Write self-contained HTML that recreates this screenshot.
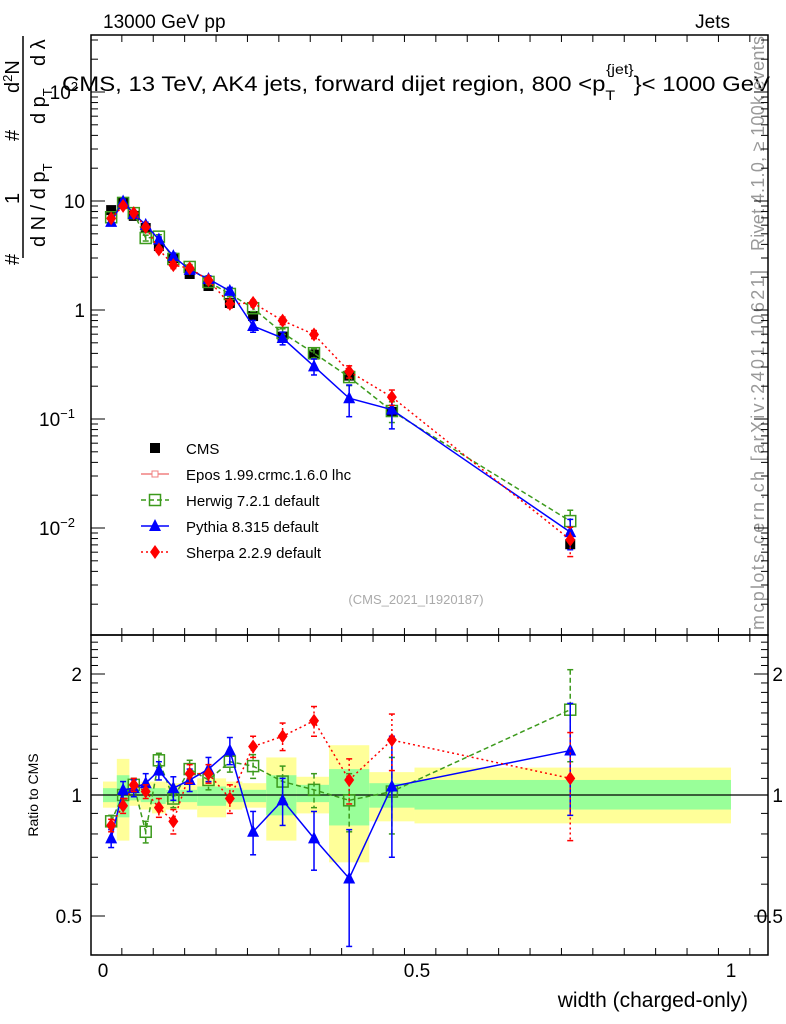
<!DOCTYPE html>
<html><head><meta charset="utf-8">
<style>
html,body{margin:0;padding:0;background:#fff;}
svg{display:block;font-family:"Liberation Sans",sans-serif;}
</style></head>
<body>
<svg id="c" width="786" height="1024" viewBox="0 0 786 1024" xmlns="http://www.w3.org/2000/svg">
<text x="103" y="28" font-size="19">13000 GeV pp</text>
<text x="730" y="28" font-size="19" text-anchor="end">Jets</text>
<text x="62" y="91" font-size="21" textLength="708" lengthAdjust="spacingAndGlyphs">CMS, 13 TeV, AK4 jets, forward dijet region, 800 &lt;p<tspan font-size="14" dy="9">T</tspan><tspan font-size="14" dy="-26" dx="-8">{jet}</tspan><tspan dy="17">}&lt; 1000 GeV</tspan></text>
<g font-size="20">
<text transform="translate(19,265) rotate(-90)">#</text>
<text transform="translate(19,204) rotate(-90)">1</text>
<text transform="translate(19,141) rotate(-90)">#</text>
<text transform="translate(19,93) rotate(-90)">d<tspan font-size="13" dy="-7">2</tspan><tspan dy="7">N</tspan></text>
<line x1="23" y1="258" x2="23" y2="36" stroke="#000" stroke-width="1.5"/>
<text transform="translate(45,247) rotate(-90)">d N / d p<tspan font-size="13" dy="7">T</tspan></text>
<text transform="translate(45,124) rotate(-90)">d p<tspan font-size="13" dy="7">T</tspan></text>
<text transform="translate(45,66) rotate(-90)">d λ</text>
</g>
<text transform="translate(764,251) rotate(-90)" font-size="18" fill="#999" textLength="215" lengthAdjust="spacing">Rivet 4.1.0, ≥ 100k events</text>
<text transform="translate(764,630) rotate(-90)" font-size="18" fill="#999" textLength="360" lengthAdjust="spacing">mcplots.cern.ch [arXiv:2401.10621]</text>
<text x="416" y="604" font-size="13" fill="#aaa" text-anchor="middle">(CMS_2021_I1920187)</text>
<text transform="translate(38,795) rotate(-90)" font-size="14" text-anchor="middle">Ratio to CMS</text>
<text x="748" y="1007" font-size="21" text-anchor="end">width (charged-only)</text>
<g id="bands"></g><g id="axes"></g><g id="marks"></g><g id="legend"></g>
</svg>
<script>
const binEdges=[0,0.022,0.042,0.06,0.078,0.1,0.124,0.15,0.196,0.222,0.26,0.308,0.36,0.424,0.496,1.0];
const xCenters=[0.013,0.032,0.049,0.068,0.089,0.112,0.138,0.168,0.202,0.239,0.286,0.336,0.392,0.460,0.744];
const cmsValues=[8.25,9.6,7.3,5.65,3.86,3.0,2.14,1.66,1.16,0.88,0.57,0.39,0.25,0.116,0.0071];
const herwigRatio=[0.86,1.0,1.06,0.81,1.22,0.98,1.16,1.09,1.21,1.18,1.08,1.03,0.97,1.02,1.63];
const pythiaRatio=[0.78,1.03,1.04,1.07,1.15,1.04,1.09,1.16,1.29,0.81,0.97,0.78,0.62,1.05,1.29];
const sherpaRatio=[0.84,0.94,1.06,1.02,0.93,0.86,1.13,1.13,0.98,1.32,1.40,1.53,1.09,1.37,1.10];
const herwigErr=[0.03,0.03,0.04,0.05,0.05,0.05,0.06,0.06,0.07,0.08,0.1,0.1,0.16,0.22,0.42];
const pythiaErr=[0.04,0.05,0.05,0.06,0.06,0.07,0.07,0.08,0.1,0.1,0.13,0.13,0.2,0.35,0.4];
const sherpaErr=[0.03,0.04,0.04,0.04,0.05,0.06,0.06,0.06,0.08,0.08,0.11,0.13,0.14,0.22,0.33];
const yellowLo=[0.93,0.77,0.94,0.92,0.9,0.92,0.92,0.88,0.92,0.93,0.77,0.9,0.68,0.86,0.85];
const yellowHi=[1.08,1.23,1.06,1.08,1.08,1.07,1.06,1.1,1.08,1.07,1.24,1.11,1.33,1.14,1.17];
const greenLo=[0.96,0.88,0.97,0.96,0.95,0.96,0.96,0.94,0.96,0.96,0.89,0.96,0.84,0.93,0.92];
const greenHi=[1.04,1.12,1.03,1.04,1.04,1.03,1.03,1.05,1.04,1.03,1.12,1.06,1.16,1.07,1.09];
const mainTicks=[0.01,0.1,1,10,100];
const mainTickLabels=[["10","−2"],["10","−1"],["1",""],["10",""],["10","2"]];
const ratioTicks=[0.5,1,2];
const ratioTickLabels=["0.5","1","2"];
const xTicks=[0,0.5,1];
const xTickLabels=["0","0.5","1"];
const legendLabels=["CMS","Epos 1.99.crmc.1.6.0 lhc","Herwig 7.2.1 default","Pythia 8.315 default","Sherpa 2.2.9 default"];

const NS="http://www.w3.org/2000/svg";
const L=91,R=768,MT=35,MB=635,RT=635,RB=955;
const X=v=>103+628*v;
const Y=v=>310-109*Math.log10(v);
const YR=v=>795-121*Math.log2(v);
function el(tag,attrs,parent){const e=document.createElementNS(NS,tag);for(const k in attrs)e.setAttribute(k,attrs[k]);(parent||document.getElementById('c')).appendChild(e);return e;}
const bands=document.getElementById('bands'),axes=document.getElementById('axes'),marks=document.getElementById('marks'),leg=document.getElementById('legend');

for(let i=0;i<xCenters.length;i++){
 const x0=X(binEdges[i]),x1=X(binEdges[i+1]);
 const y=el('rect',{x:x0,y:YR(yellowHi[i]),width:x1-x0,height:YR(yellowLo[i])-YR(yellowHi[i]),fill:'#ffff99'},bands);
 
 
 const g=el('rect',{x:x0,y:YR(greenHi[i]),width:x1-x0,height:YR(greenLo[i])-YR(greenHi[i]),fill:'#99ff99'},bands);
 
 
}
el('line',{x1:L,x2:R,y1:YR(1),y2:YR(1),stroke:'#000','stroke-width':1.2},bands);

el('rect',{x:L,y:MT,width:R-L,height:MB-MT,fill:'none',stroke:'#000','stroke-width':1.5},axes);
el('rect',{x:L,y:RT,width:R-L,height:RB-RT,fill:'none',stroke:'#000','stroke-width':1.5},axes);
for(let d=-3;d<=2;d++){for(let m=1;m<=9;m++){const v=m*Math.pow(10,d);const y=Y(v);if(y<MT||y>MB)continue;const len=m==1?14:7;
 el('line',{x1:L,x2:L+len,y1:y,y2:y,stroke:'#000'},axes);el('line',{x1:R,x2:R-len,y1:y,y2:y,stroke:'#000'},axes);}}
mainTicks.forEach((v,i)=>{const t=el('text',{x:85,y:Y(v)+7,'font-size':19,'text-anchor':'end'},axes);
 
 
 t.textContent=mainTickLabels[i][0];
 if(mainTickLabels[i][1]){t.setAttribute('x',mainTickLabels[i][1].length>1?75:78);const s=el('tspan',{'font-size':13,dy:-8},t);s.textContent=mainTickLabels[i][1];}
});
for(let v=0.4;v<=2.5;v=+(v+0.1).toFixed(2)){const y=YR(v);if(y<RT||y>RB)continue;const major=ratioTicks.includes(v);const len=major?14:7;
 el('line',{x1:L,x2:L+len,y1:y,y2:y,stroke:'#000'},axes);el('line',{x1:R,x2:R-len,y1:y,y2:y,stroke:'#000'},axes);}
ratioTicks.forEach((v,i)=>{[[82,'end'],[783,'end']].forEach(p=>{const t=el('text',{x:p[0],y:YR(v)+7,'font-size':19,'text-anchor':p[1]},axes);
 
 
 t.textContent=ratioTickLabels[i];});});
for(let k=0;k<=22;k++){const v=-0.02+k*0.05;const x=X(v);if(x<L||x>R)continue;const major=Math.abs(v*2-Math.round(v*2))<1e-6;const len=major?14:7;
 [[MT,1],[MB,-1],[RT,1],[RB,-1]].forEach(p=>el('line',{x1:x,x2:x,y1:p[0],y2:p[0]+p[1]*len,stroke:'#000'},axes));}
xTicks.forEach((v,i)=>{const t=el('text',{x:X(v),y:977,'font-size':19,'text-anchor':'middle'},axes);
 
 
 t.textContent=xTickLabels[i];});

function marker(type,x,y,color,parent){
 if(type=='sq')return el('rect',{x:x-5,y:y-5,width:10,height:10,fill:'#000'},parent);
 if(type=='osq')return el('rect',{x:x-5.5,y:y-5.5,width:11,height:11,fill:'none',stroke:color,'stroke-width':1.5},parent);
 if(type=='tri')return el('polygon',{points:`${x},${y-7} ${x-6},${y+5} ${x+6},${y+5}`,fill:color},parent);
 if(type=='dia')return el('polygon',{points:`${x},${y-7} ${x+5},${y} ${x},${y+7} ${x-5},${y}`,fill:color},parent);
}
const series=[
 {name:'herwig',ratio:herwigRatio,err:herwigErr,color:'#3c9a1c',dash:'5,3',type:'osq'},
 {name:'pythia',ratio:pythiaRatio,err:pythiaErr,color:'#0000ff',dash:'',type:'tri'},
 {name:'sherpa',ratio:sherpaRatio,err:sherpaErr,color:'#ff0000',dash:'2,3',type:'dia'}];
cmsValues.forEach((v,i)=>{const m=marker('sq',X(xCenters[i]),Y(v),'#000',marks);
 
 });
series.forEach(s=>{
 const mp=[],rp=[];
 s.ratio.forEach((r,i)=>{mp.push(X(xCenters[i])+','+Y(cmsValues[i]*r));rp.push(X(xCenters[i])+','+YR(r));});
 [mp,rp].forEach(pts=>{const pl=el('polyline',{points:pts.join(' '),fill:'none',stroke:s.color,'stroke-width':1.5,'stroke-dasharray':s.dash},marks);
  
  });
 s.ratio.forEach((r,i)=>{const x=X(xCenters[i]);
  [[Y,cmsValues[i]],[YR,1]].forEach(p=>{const f=p[0],b=p[1];
   const y1=f(b*(r+s.err[i])),y2=f(b*Math.max(r-s.err[i],0.01));
   el('line',{x1:x,x2:x,y1:y1,y2:y2,stroke:s.color,'stroke-width':1.5,'stroke-dasharray':s.dash},marks);
   el('line',{x1:x-3,x2:x+3,y1:y1,y2:y1,stroke:s.color,'stroke-width':1.5},marks);
   el('line',{x1:x-3,x2:x+3,y1:y2,y2:y2,stroke:s.color,'stroke-width':1.5},marks);
   const m=marker(s.type,x,f(b*r),s.color,marks);
   
   });
 });
});
const legY=[448,474,500,526,552];
legendLabels.forEach((lab,i)=>{const y=legY[i],x=155;
 const g=el('g',{},leg);
 
 
 if(i==0)marker('sq',x,y,'#000',g);
 if(i==1){el('line',{x1:x-14,x2:x+14,y1:y,y2:y,stroke:'#f08080','stroke-width':1.5},g);el('rect',{x:x-3,y:y-3,width:6,height:6,fill:'#fff',stroke:'#f08080'},g);}
 if(i>=2){const s=series[i-2];el('line',{x1:x-14,x2:x+14,y1:y,y2:y,stroke:s.color,'stroke-width':1.5,'stroke-dasharray':s.dash},g);marker(s.type,x,y,s.color,g);}
 const t=el('text',{x:186,y:y+6,'font-size':15},g);t.textContent=lab;
});
</script>
</body></html>
